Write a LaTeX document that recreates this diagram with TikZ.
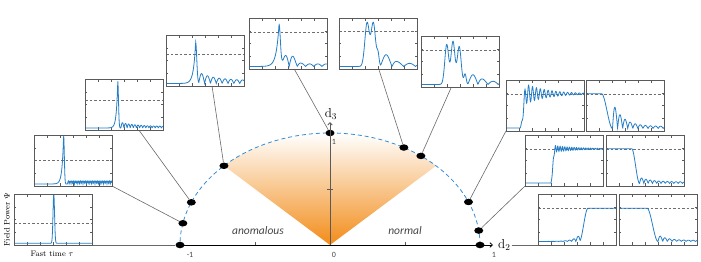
\documentclass[tikz,border=0pt]{standalone}
\usepackage{fontspec}
\newfontfamily\carl{Carlito}
\usetikzlibrary{calc,arrows.meta,shapes.geometric}
\definecolor{pblue}{RGB}{36,126,200}
\definecolor{ablue}{RGB}{50,140,215}
\definecolor{frgray}{RGB}{90,90,90}
\definecolor{cgray}{RGB}{105,105,105}
\definecolor{dgray}{RGB}{110,110,110}
\definecolor{forange}{RGB}{242,140,25}
\definecolor{tgray}{RGB}{70,70,70}
\newcommand\drawinset[3]{%
\begin{scope}[shift={(#1.south west)},x=78pt,y=51pt]
 \foreach \i in {1,...,5}{\draw[tickm] (\i/6,0)--(\i/6,0.05) (\i/6,1)--(\i/6,0.95);}
 \foreach \j in {1,2,3}{\draw[tickm] (0,\j/4)--(0.03,\j/4) (1,\j/4)--(0.97,\j/4);}
 \draw[dashref] (0,#2)--(1,#2);
 \begin{scope}
  \clip (0,0) rectangle (1,1);
  \draw[pulse] plot[domain=0:1,samples=300] (\x,{#3});
 \end{scope}
 \draw[draw=frgray,line width=0.9pt] (0,0) rectangle (1,1);
\end{scope}}
\begin{document}
\begin{tikzpicture}[x=1pt,y=-1pt,
 declare function={
  gs(\uu,\cc,\ww)=exp(-((\uu-\cc)/\ww)*((\uu-\cc)/\ww));
  ltail(\uu,\cc,\ww)=exp(-abs(\uu-\cc)/\ww);
  clmp(\uu,\lo,\hi)=max(0,min(1,(\uu-\lo)/(\hi-\lo)));
  sstep(\uu,\lo,\hi)=clmp(\uu,\lo,\hi)*clmp(\uu,\lo,\hi)*(3-2*clmp(\uu,\lo,\hi));
 },
 inbox/.style={draw=frgray,line width=0.9pt,fill=white,minimum width=78pt,minimum height=51pt,inner sep=0pt,outer sep=0pt,anchor=north west},
 blob/.style={ellipse,fill=black,minimum width=9pt,minimum height=6.5pt,inner sep=0pt},
 conn/.style={draw=cgray,line width=0.6pt},
 pulse/.style={draw=pblue,line width=0.8pt},
 tickm/.style={draw=frgray,line width=0.4pt},
 dashref/.style={draw=dgray,line width=0.5pt,dash pattern=on 2.5pt off 2pt},
 tlab/.style={font=\carl\fontsize{8}{8}\selectfont,text=tgray,inner sep=1pt},
 reg/.style={font=\carl\itshape\fontsize{11.5}{12}\selectfont,text=tgray},
 dlab/.style={font=\fontsize{13}{13}\selectfont,inner sep=1pt}]
\useasboundingbox (0,0) rectangle (701,262);
\coordinate (O) at (330,245);
% fan
\shade[top color=white,middle color=forange!22!white,bottom color=forange]
 (O) -- plot[domain=45:135,samples=60] ({330+150*cos(\x)},{245-112*sin(\x)}) -- cycle;
% dashed ellipse
\draw[ablue,line width=0.8pt,dash pattern=on 4pt off 3pt]
 plot[domain=0:180,samples=150] ({330+150*cos(\x)},{245-112*sin(\x)});
% dots
\foreach \nm/\ang in {pA/180,pB/168.8,pX/157.6,pC/135,pD/90,pE/60.5,pF/52.7,pG/22.6,pH/7.4,pI/0}
 {\node[blob] (\nm) at ({330+150*cos(\ang)},{245-112*sin(\ang)}) {};}
% axes
\coordinate (xend) at (493,245);
\coordinate (yend) at (330,122);
\draw[black,line width=0.8pt,-{Straight Barb[length=2.5pt,width=4.5pt]}] (pA.center) -- (xend);
\draw[frgray,line width=0.8pt,-{Straight Barb[length=2.5pt,width=4.5pt]}] (O) -- (yend);
\draw[frgray,line width=0.6pt] (255,245) -- (255,242) (405,245) -- (405,242) (327,189) -- (333,189);
% boxes
\node[inbox] (b1) at (14,194) {};
\node[inbox] (b2) at (34,135) {};
\node[inbox] (bX) at (85,79) {};
\node[inbox] (b3) at (166,35) {};
\node[inbox] (b4) at (249,18) {};
\node[inbox] (b5) at (339,18) {};
\node[inbox] (b6) at (421,36) {};
\node[inbox] (b7a) at (506,80) {};
\node[inbox] (b7b) at (586,80) {};
\node[inbox] (b8a) at (525,135) {};
\node[inbox] (b8b) at (606,135) {};
\node[inbox] (b9a) at (538,194) {};
\node[inbox] (b9b) at (619,194) {};
% labels
\node[dlab] (lab3) at (331,114) {d$_3$};
\node[dlab,anchor=west] (lab2) at (497,245) {d$_2$};
\node[tlab] (tm1) at (190,255) {-1};
\node[tlab] (t0) at (334,255) {0};
\node[tlab] (tp1) at (494,255) {1};
\node[tlab] (t1v) at (334,142) {1};
\node[reg] (an) at (258,231) {anomalous};
\node[reg] (no) at (405,231) {normal};
\node[font=\fontsize{8}{9}\selectfont,rotate=90] (fp) at (7,220) {Field Power $\Psi$};
\node[font=\fontsize{8}{9}\selectfont] (ft) at (52,254) {Fast time $\tau$};
% connectors
\draw[conn] (b1.south east) -- (pA);
\draw[conn] (b2.south east) -- (pB);
\draw[conn] ($(bX.south west)!0.69!(bX.south east)$) -- (pX);
\draw[conn] ($(b3.south west)!0.59!(b3.south east)$) -- (pC);
\draw[conn] ($(b4.south west)!0.58!(b4.south east)$) -- (pD);
\draw[conn] ($(b5.south west)!0.51!(b5.south east)$) -- (pE);
\draw[conn] ($(b6.south west)!0.39!(b6.south east)$) -- (pF);
\draw[conn] (b7a.south west) -- (pG);
\draw[conn] (b8a.south west) -- (pH);
\draw[conn] (lab2.east) -- (b9a.south west);
% inset contents
\drawinset{b1}{0.42}{0.035+0.965*gs(\x,0.51,0.014)}
\drawinset{b2}{0.51}{0.04+(\x<0.38)*0.96*ltail(\x,0.38,0.02)+(\x>=0.38)*0.96*gs(\x,0.38,0.012)+(\x>0.43)*0.06*abs(sin(180*(\x-0.43)/0.022))}
\drawinset{bX}{0.58}{0.04+(\x<0.42)*0.92*ltail(\x,0.42,0.018)+(\x>=0.42)*0.92*gs(\x,0.42,0.013)+(\x>0.46)*(0.03+0.08*exp(-(\x-0.46)/0.2))*abs(sin(180*(\x-0.46)/0.04))}
\drawinset{b3}{0.63}{0.05+(\x<0.38)*0.81*ltail(\x,0.38,0.028)+(\x>=0.38)*0.81*gs(\x,0.38,0.02)+(\x>0.42)*(0.06+0.16*exp(-(\x-0.42)/0.2))*abs(sin(180*(\x-0.42)/0.075))}
\drawinset{b4}{0.73}{0.05+(\x<0.385)*0.83*ltail(\x,0.385,0.035)+(\x>=0.385)*0.83*gs(\x,0.385,0.025)+(\x>0.41)*(0.05+0.2*gs(\x,0.51,0.1))*abs(sin(180*(\x-0.41)/0.105))}
\drawinset{b5}{0.74}{0.05+0.85*gs(\x,0.36,0.04)+0.85*gs(\x,0.44,0.04)+0.22*gs(\x,0.5,0.02)+(\x>0.53)*(0.06+0.17*gs(\x,0.6,0.12))*abs(sin(180*(\x-0.53)/0.15))}
\drawinset{b6}{0.73}{0.05+0.78*gs(\x,0.33,0.035)+0.84*gs(\x,0.41,0.035)+0.74*gs(\x,0.49,0.035)+0.2*gs(\x,0.565,0.02)+(\x>0.6)*(0.06+0.13*gs(\x,0.67,0.12))*abs(sin(180*(\x-0.6)/0.13))}
\drawinset{b7a}{0.73}{0.06+0.67*sstep(\x,0.18,0.26)+sstep(\x,0.18,0.26)*0.17*exp(-(\x-0.29)/0.28)*cos(360*(\x-0.29)/0.05)}
\drawinset{b7b}{0.73}{0.05+0.68*(1-sstep(\x,0.2,0.34))+(\x>0.34)*(0.04+0.38*exp(-(\x-0.37)/0.13))*abs(sin(180*(\x-0.34)/0.065))}
\drawinset{b8a}{0.73}{0.06+0.67*sstep(\x,0.33,0.385)+sstep(\x,0.33,0.385)*0.06*exp(-(\x-0.39)/0.3)*cos(360*(\x-0.39)/0.03)}
\drawinset{b8b}{0.73}{0.05+0.68*(1-sstep(\x,0.33,0.43))+(\x>0.43)*(0.03+0.08*exp(-(\x-0.45)/0.15))*abs(sin(180*(\x-0.43)/0.055))}
\drawinset{b9a}{0.72}{0.07+0.65*sstep(\x,0.53,0.64)+(\x<0.54)*0.14*exp(-(0.54-\x)/0.08)*abs(sin(180*(\x-0.54)/0.055))}
\drawinset{b9b}{0.72}{0.07+0.65*(1-sstep(\x,0.36,0.5))+(\x>0.5)*(0.02+0.09*exp(-(\x-0.52)/0.12))*abs(sin(180*(\x-0.5)/0.06))}
\end{tikzpicture}
\end{document}
